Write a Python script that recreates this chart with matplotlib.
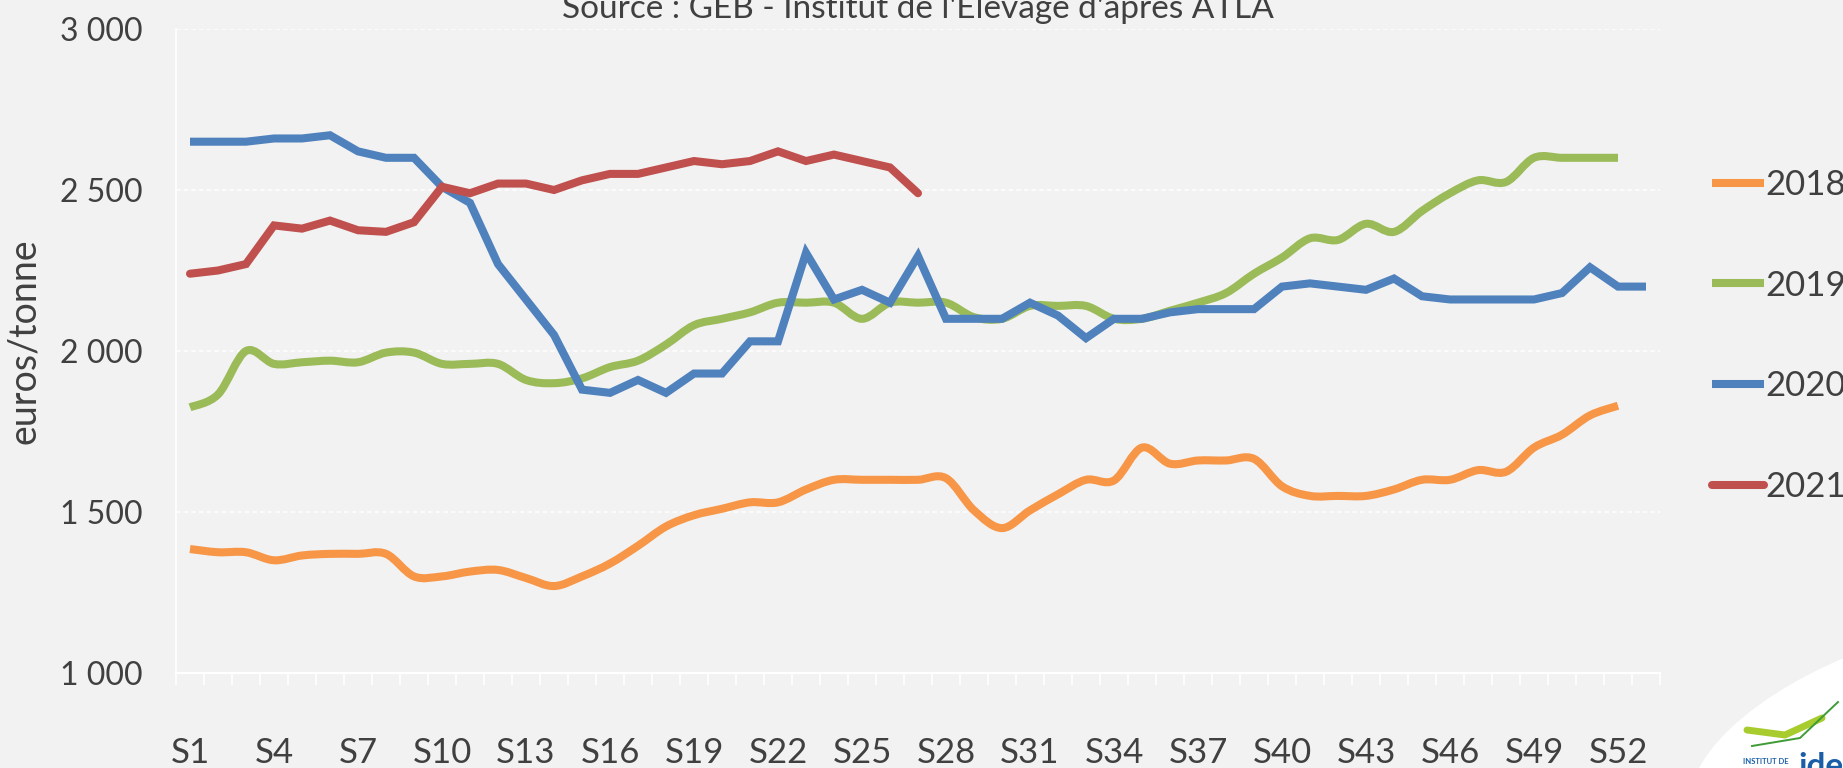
import matplotlib
matplotlib.use("Agg")
import matplotlib.pyplot as plt
from matplotlib.path import Path
from matplotlib.patches import PathPatch, Ellipse
from matplotlib.lines import Line2D
from matplotlib.ticker import FixedLocator, FuncFormatter
from matplotlib.transforms import IdentityTransform

plt.rcParams['font.family'] = ['Lato', 'DejaVu Sans']

# weekly price, euros/tonne
weeks = [f"S{i}" for i in range(1, 54)]
tick_labels = ["S1", "S4", "S7", "S10", "S13", "S16", "S19", "S22", "S25",
               "S28", "S31", "S34", "S37", "S40", "S43", "S46", "S49", "S52"]

prix_2018 = [1385, 1375, 1375, 1350, 1365, 1370, 1370, 1370, 1300, 1300,
             1315, 1320, 1295, 1270, 1300, 1340, 1395, 1455, 1490, 1510,
             1530, 1530, 1570, 1600, 1600, 1600, 1600, 1605, 1505, 1450,
             1505, 1555, 1600, 1598, 1700, 1650, 1660, 1660, 1665, 1580,
             1550, 1550, 1550, 1570, 1600, 1600, 1630, 1625, 1700, 1740,
             1800, 1830]
prix_2019 = [1825, 1865, 2000, 1960, 1965, 1970, 1965, 1995, 1995, 1960,
             1960, 1960, 1910, 1900, 1915, 1950, 1970, 2020, 2080, 2100,
             2120, 2150, 2150, 2150, 2100, 2150, 2150, 2150, 2105, 2100,
             2140, 2140, 2140, 2100, 2100, 2125, 2150, 2180, 2240, 2290,
             2350, 2345, 2395, 2370, 2435, 2490, 2530, 2525, 2600, 2600,
             2600, 2600]
prix_2020 = [2650, 2650, 2650, 2660, 2660, 2670, 2620, 2600, 2600, 2510,
             2460, 2270, 2160, 2050, 1880, 1870, 1910, 1870, 1930, 1930,
             2030, 2030, 2305, 2160, 2190, 2150, 2295, 2100, 2100, 2100,
             2150, 2110, 2040, 2100, 2100, 2120, 2130, 2130, 2130, 2200,
             2210, 2200, 2190, 2225, 2170, 2160, 2160, 2160, 2160, 2180,
             2260, 2200, 2200]
prix_2021 = [2240, 2250, 2270, 2390, 2380, 2405, 2375, 2370, 2400, 2510,
             2490, 2520, 2520, 2500, 2530, 2550, 2550, 2570, 2590, 2580,
             2590, 2620, 2590, 2610, 2590, 2570, 2490]

colors = {"2018": "#F79646", "2019": "#9BBB59", "2020": "#4F81BD", "2021": "#C0504D"}
text_col = "#404040"
bg = "#F2F2F2"


def smooth_path(xs, ys):
    # Excel-style smoothed line: cubic Bezier through every point
    pts = list(zip(xs, ys))
    n = len(pts)
    verts = [pts[0]]
    codes = [Path.MOVETO]
    for i in range(n - 1):
        p0 = pts[i - 1] if i > 0 else pts[i]
        p1 = pts[i]
        p2 = pts[i + 1]
        p3 = pts[i + 2] if i + 2 < n else pts[i + 1]
        c1 = (p1[0] + (p2[0] - p0[0]) / 6, p1[1] + (p2[1] - p0[1]) / 6)
        c2 = (p2[0] - (p3[0] - p1[0]) / 6, p2[1] - (p3[1] - p1[1]) / 6)
        verts += [c1, c2, p2]
        codes += [Path.CURVE4] * 3
    return Path(verts, codes)


fig = plt.figure(figsize=(18.43, 7.68), dpi=100, facecolor=bg)
ax = fig.add_axes([176 / 1843, 1 - 673 / 768, 1484 / 1843, 644 / 768])
ax.set_facecolor(bg)

lw = 5.8
x18 = list(range(1, len(prix_2018) + 1))
x19 = list(range(1, len(prix_2019) + 1))
x20 = list(range(1, len(prix_2020) + 1))
x21 = list(range(1, len(prix_2021) + 1))

ax.add_patch(PathPatch(smooth_path(x18, prix_2018), fill=False,
                       edgecolor=colors["2018"], lw=lw, capstyle='butt', zorder=3))
ax.add_patch(PathPatch(smooth_path(x19, prix_2019), fill=False,
                       edgecolor=colors["2019"], lw=lw, capstyle='butt', zorder=4))
ax.plot(x20, prix_2020, color=colors["2020"], lw=lw, solid_capstyle='butt',
        solid_joinstyle='miter', zorder=5)
ax.plot(x21, prix_2021, color=colors["2021"], lw=lw, solid_capstyle='round',
        solid_joinstyle='miter', zorder=6)

ax.set_xlim(0.5, len(weeks) + 0.5)
ax.set_ylim(1000, 3000)

# axes styling
for s in ["top", "right"]:
    ax.spines[s].set_visible(False)
ax.spines["left"].set_color("white")
ax.spines["left"].set_linewidth(1.2)
ax.spines["bottom"].set_color("white")
ax.spines["bottom"].set_linewidth(1.6)

ax.set_yticks([1000, 1500, 2000, 2500, 3000])
ax.yaxis.set_major_formatter(FuncFormatter(lambda v, p: f"{int(v):,}".replace(",", " ")))
ax.tick_params(axis='y', length=0, pad=24, labelsize=23, labelcolor=text_col)
ax.yaxis.grid(True, color="white", lw=1.1, linestyle=(0, (3, 2)))
ax.set_axisbelow(True)

tick_pos = [weeks.index(t) + 1 for t in tick_labels]
ax.set_xticks(tick_pos)
ax.set_xticklabels(tick_labels)
ax.xaxis.set_minor_locator(FixedLocator([i + 0.5 for i in range(len(weeks) + 1)]))
ax.tick_params(axis='x', which='major', length=0, pad=46, labelsize=25, labelcolor=text_col)
ax.tick_params(axis='x', which='minor', length=8.6, width=1.2, color="white", direction='out')

fig.text(24 / 1843, 1 - 341 / 768, "euros/tonne", rotation=90, ha='center', va='center',
         fontsize=27, color=text_col)

fig.text(918 / 1843, 1 - 18 / 768, "Source : GEB - Institut de l'Elevage d'après ATLA",
         ha='center', va='baseline', fontsize=24, color=text_col)

handles = [Line2D([], [], color=colors[k], lw=lw, solid_capstyle='butt') for k in colors]
handles[-1].set_solid_capstyle('round')
fig.legend(handles, list(colors.keys()), loc='center left',
           bbox_to_anchor=(1712 / 1843, 1 - 336 / 768), frameon=False,
           fontsize=25, labelcolor=text_col, handlelength=1.5, handletextpad=0.05,
           labelspacing=1.98, borderpad=0, borderaxespad=0)

# idele logo (bottom right corner)
px = IdentityTransform()
fig.patches.append(Ellipse((1900, 30), 440, 190, angle=20, facecolor="white",
                           edgecolor="none", transform=px, figure=fig))
fig.lines.append(Line2D([1747 / 1843, 1785 / 1843, 1822 / 1843],
                        [38 / 768, 33 / 768, 50 / 768], color="#A8CC2E", lw=5,
                        solid_capstyle='round', transform=fig.transFigure))
fig.lines.append(Line2D([1752 / 1843, 1800 / 1843, 1838 / 1843],
                        [22 / 768, 30 / 768, 66 / 768], color="#3E9B35", lw=1.4,
                        transform=fig.transFigure))
fig.text(1743 / 1843, 4 / 768, "INSTITUT DE", fontsize=5.5, fontweight='bold',
         color="#1B5EA8")
fig.text(1798 / 1843, -8 / 768, "idele", fontsize=24, fontweight='bold', color="#1B5EA8")

fig.savefig("out.png", dpi=100, facecolor=bg)
